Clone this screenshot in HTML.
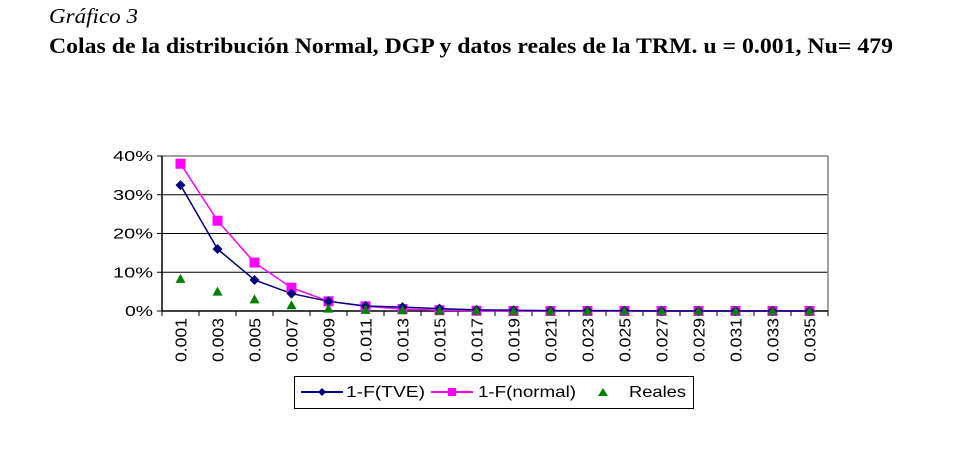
<!DOCTYPE html>
<html><head><meta charset="utf-8"><style>
body{margin:0;background:#fff;width:967px;height:444px;overflow:hidden}
</style></head><body>
<svg id="s" width="967" height="444" xmlns="http://www.w3.org/2000/svg" font-family="Liberation Sans, Arial, sans-serif">
<text x="49" y="23" font-family="Liberation Serif, serif" font-style="italic" font-size="21" textLength="89" lengthAdjust="spacingAndGlyphs">Gráfico 3</text>
<text x="49" y="53" font-family="Liberation Serif, serif" font-weight="bold" font-size="22" textLength="844" lengthAdjust="spacingAndGlyphs">Colas de la distribución Normal, DGP y datos reales de la TRM. u = 0.001, Nu= 479</text>
<g id="g"></g>
<rect x="294.5" y="376.5" width="399" height="32" fill="none" stroke="#000"/>
<line x1="301" y1="392" x2="343" y2="392" stroke="#000080" stroke-width="2"/>
<polygon points="322,388 326,392 322,396 318,392" fill="#000080"/>
<text x="346" y="397" font-size="16" textLength="79" lengthAdjust="spacingAndGlyphs">1-F(TVE)</text>
<line x1="431" y1="392" x2="473" y2="392" stroke="#ff00ff" stroke-width="2"/>
<rect x="448" y="388" width="8" height="8" fill="#ff00ff"/>
<text x="478" y="397" font-size="16" textLength="98" lengthAdjust="spacingAndGlyphs">1-F(normal)</text>
<polygon points="603,388 608,396 598,396" fill="#008000"/>
<text x="629" y="397" font-size="16" textLength="57" lengthAdjust="spacingAndGlyphs">Reales</text>
</svg>
<script>
var g=document.getElementById('g'),h='';
var L=162,R=828,T=156,B=311,n=18,w=(R-L)/n;
function Y(v){return B-v/40*155;}
for(var i=1;i<4;i++){var y=Y(i*10);h+='<line x1="'+L+'" y1="'+y+'" x2="'+R+'" y2="'+y+'" stroke="#000" stroke-width="1"/>';}
h+='<line x1="'+L+'" y1="'+T+'" x2="'+R+'" y2="'+T+'" stroke="#808080" stroke-width="1.5"/>';
h+='<line x1="'+R+'" y1="'+T+'" x2="'+R+'" y2="'+B+'" stroke="#808080" stroke-width="1.5"/>';
h+='<line x1="'+L+'" y1="'+T+'" x2="'+L+'" y2="'+B+'" stroke="#000" stroke-width="1.5"/>';
h+='<line x1="'+L+'" y1="'+B+'" x2="'+R+'" y2="'+B+'" stroke="#000" stroke-width="1.5"/>';
for(var i=0;i<5;i++){var y=Y(i*10);var tl=i==0?28:40;h+='<line x1="'+(L-5)+'" y1="'+y+'" x2="'+L+'" y2="'+y+'" stroke="#000"/>';h+='<text x="'+(L-9-tl)+'" y="'+(y+5)+'" font-size="15" textLength="'+tl+'" lengthAdjust="spacingAndGlyphs">'+(i*10)+'%</text>';}
for(var i=0;i<=n;i++){var x=L+i*w;h+='<line x1="'+x+'" y1="'+B+'" x2="'+x+'" y2="'+(B+5)+'" stroke="#000"/>';}
var tve=[32.5,16,8,4.5,2.5,1.3,1,0.6,0.3,0.2,0.1,0.1,0.1,0,0,0,0,0];
var nor=[38,23.3,12.5,6,2.5,1.2,0.5,0.2,0.05,0,0,0,0,0,0,0,0,0];
var rea=[8.3,5,3,1.5,0.6,0.3,0.2,0.1,0.1,0,0,0,0,0,0,0,0,0];
var p1='',p2='';
for(var i=0;i<n;i++){var x=L+w*(i+0.5);p1+=x+','+Y(tve[i])+' ';p2+=x+','+Y(nor[i])+' ';
var lab=(0.001+0.002*i).toFixed(3);
h+='<text transform="translate('+(x+6)+','+(B+51)+') rotate(-90)" font-size="16" textLength="44" lengthAdjust="spacingAndGlyphs">'+lab+'</text>';}
h+='<polyline points="'+p2+'" fill="none" stroke="#ff00ff" stroke-width="1.5"/>';
h+='<polyline points="'+p1+'" fill="none" stroke="#000080" stroke-width="1.5"/>';
for(var i=0;i<n;i++){var x=L+w*(i+0.5),y;
y=Y(nor[i]);h+='<rect x="'+(x-5)+'" y="'+(y-5)+'" width="10" height="10" fill="#ff00ff"/>';
y=Y(tve[i]);h+='<polygon points="'+x+','+(y-5)+' '+(x+5)+','+y+' '+x+','+(y+5)+' '+(x-5)+','+y+'" fill="#000080"/>';
y=Y(rea[i]);h+='<polygon points="'+x+','+(y-5)+' '+(x+5)+','+(y+4)+' '+(x-5)+','+(y+4)+'" fill="#008000"/>';}
g.innerHTML=h;
</script>
</body></html>
